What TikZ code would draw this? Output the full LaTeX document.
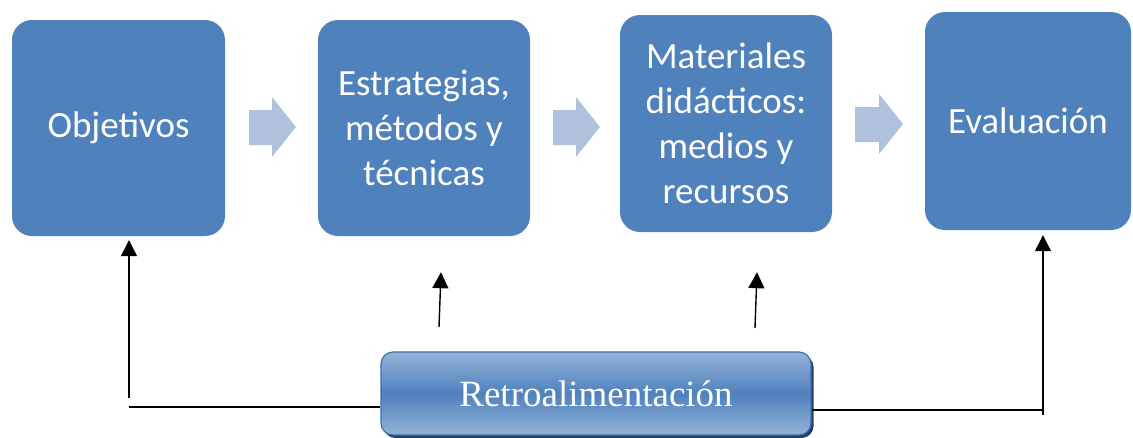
\documentclass[tikz,border=0pt]{standalone}
\usepackage{fontspec}
\setmainfont{Liberation Serif}
\newfontfamily\calfont{Carlito}
\usetikzlibrary{arrows.meta,shadows}
\definecolor{boxblue}{HTML}{4F81BD}
\definecolor{lightblue}{HTML}{95B3D7}
\definecolor{arrowc}{HTML}{AFC1DC}
\definecolor{retroborder}{HTML}{3F6EA8}
\definecolor{shadowc}{HTML}{243F60}
\tikzset{
  stepbox/.style={rectangle, rounded corners=20pt, fill=boxblue, draw=none,
    text=white, align=center, font=\calfont\fontsize{37}{45}\selectfont,
    inner sep=0pt},
  retrobox/.style={rectangle, rounded corners=12pt, draw=retroborder, line width=1.2pt,
    top color=lightblue, bottom color=lightblue, middle color=boxblue,
    text=white, font=\fontsize{37}{42}\selectfont,
    drop shadow={shadow xshift=2.5pt, shadow yshift=-3pt, fill=shadowc, opacity=1}},
  blockarrow/.style={fill=arrowc, draw=none},
  fb/.style={line width=1.4pt, black},
  fbarrow/.style={fb, -{Triangle[length=16pt,width=16pt]}}
}
\begin{document}
\begin{tikzpicture}[x=1pt,y=-1pt]
\useasboundingbox (0,0) rectangle (1133,437);
% main boxes
\node[stepbox, minimum width=213pt, minimum height=216pt] (obj) at (118.5,128) {Objetivos};
\node[stepbox, minimum width=212pt, minimum height=216pt] (est) at (424,128) {Estrategias,\\métodos y\\técnicas};
\node[stepbox, minimum width=212pt, minimum height=217pt] (mat) at (726,123.5) {Materiales\\didácticos:\\medios y\\recursos};
\node[stepbox, minimum width=206pt, minimum height=218pt] (eva) at (1028,121) {Evaluación};
% block arrows
\fill[blockarrow] (249,110) -- (272,110) -- (272,97) -- (296,127) -- (272,157) -- (272,145) -- (249,145) -- cycle;
\fill[blockarrow] (553,110) -- (576,110) -- (576,97) -- (600,127) -- (576,157) -- (576,145) -- (553,145) -- cycle;
\fill[blockarrow] (855,107) -- (879,107) -- (879,94) -- (903,124) -- (879,154) -- (879,142) -- (855,142) -- cycle;
% feedback box
\node[retrobox, minimum width=430pt, minimum height=83pt] (ret) at (596,393.5) {Retroalimentación};
% feedback connectors
\coordinate (l1) at (129,407);
\coordinate (l2) at (129,398);
\coordinate (r1) at (1043,410);
\coordinate (r2) at (1043,415);
\coordinate (m1) at (439,327);
\coordinate (m2) at (755,328);
\draw[fb] (l1) -- (ret.west |- l1);
\draw[fbarrow] (l2) -- ([yshift=-4pt]obj.south -| l2);
\draw[fb] (ret.east |- r1) -- (r1);
\draw[fbarrow] (r2) -- ([yshift=-5pt]eva.south -| r2);
\draw[fbarrow] (m1) -- ([xshift=2pt,yshift=-36pt]est.south -| m1);
\draw[fbarrow] (m2) -- ([xshift=2pt,yshift=-40pt]mat.south -| m2);
\end{tikzpicture}
\end{document}
